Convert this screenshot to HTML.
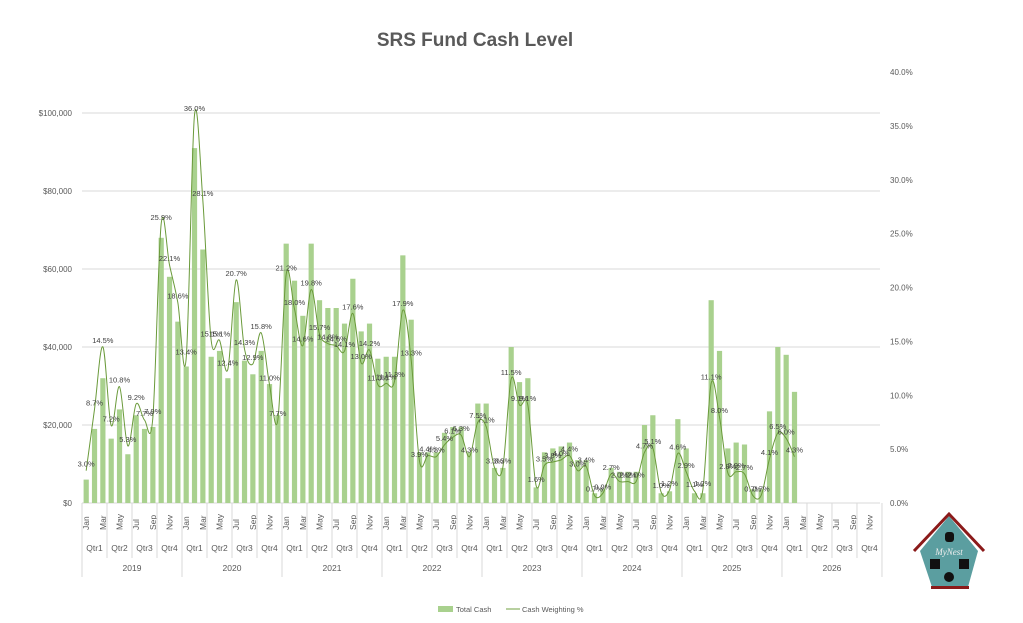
<!DOCTYPE html>
<html><head><meta charset="utf-8"><style>
body{margin:0;background:#fff;}
svg{display:block;font-family:"Liberation Sans",sans-serif;}
</style></head><body>
<svg id="c" width="1023" height="623" xmlns="http://www.w3.org/2000/svg">
<rect width="1023" height="623" fill="#fff"/>
<text x="475" y="46" text-anchor="middle" font-size="19" font-weight="bold" fill="#595959">SRS Fund Cash Level</text>
<g id="g"></g>
<!-- legend -->
<rect x="438" y="606" width="15" height="6" fill="#a9d18e"/>
<text x="456" y="612" font-size="7.5" fill="#595959">Total Cash</text>
<line x1="506" y1="609" x2="520" y2="609" stroke="#70a040" stroke-width="1"/>
<text x="522" y="612" font-size="7.5" fill="#595959">Cash Weighting %</text>
<!-- logo -->
<g>
<polygon points="949,516 920,551 932,587 968,587 978,551" fill="#5b9ea0"/>
<polyline points="914,551 949,514 984,551" fill="none" stroke="#8b1a1a" stroke-width="3"/>
<rect x="931" y="586" width="38" height="3" fill="#8b1a1a"/>
<rect x="945" y="532" width="9" height="10" rx="3" fill="#111"/>
<rect x="930" y="559" width="10" height="10" fill="#111"/>
<rect x="959" y="559" width="10" height="10" fill="#111"/>
<circle cx="949" cy="577" r="5" fill="#111"/>
<text x="949" y="555" text-anchor="middle" font-size="9" font-style="italic" fill="#eee" font-family="Liberation Serif,serif">MyNest</text>
</g>
</svg>
<script>
var ns="http://www.w3.org/2000/svg",g=document.getElementById('g');
function el(t,a,txt){var e=document.createElementNS(ns,t);for(var k in a)e.setAttribute(k,a[k]);if(txt!==undefined)e.textContent=txt;g.appendChild(e);return e;}
var X0=82,W=8.333,Y0=503;
for(var i=0;i<=5;i++){var y=Y0-i*78;el('line',{x1:X0,x2:880,y1:y,y2:y,stroke:'#d9d9d9','stroke-width':1});
el('text',{x:72,y:y+3,'text-anchor':'end','font-size':8,fill:'#595959'},i==0?'$0':'$'+(i*20)+',000');}
for(var i=0;i<=8;i++){var y=Y0-i*53.875;el('text',{x:890,y:y+3,'font-size':8,fill:'#595959'},(i*5)+'.0%');}
var bars=[6,19,32,16.5,24,12.5,22.5,19,19.5,68,58,46.5,
35,91,65,37.5,39,32,51.5,36.5,33,39,30.5,22.5,
66.5,57,48,66.5,52,50,50,46,57.5,44,46,37,
37.5,37.5,63.5,47,13,13,13,18,19.5,19.5,13,25.5,
25.5,9,9,40,31,32,4,13,14,14.5,15.5,11,
11,2.5,3.5,9,8,8,8,20,22.5,2.5,3,21.5,
14,2.5,2.5,52,39,14,15.5,15,3.5,3.5,23.5,40,
38,28.5];
bars.forEach(function(v,i){var h=v*3.9;el('rect',{x:X0+W*i+1.6,y:Y0-h,width:5.2,height:h,fill:'#a9d18e'});});
var p=[3.0,8.7,14.5,7.2,10.8,5.3,9.2,7.7,7.9,25.9,22.1,18.6,
13.4,36.0,28.1,15.1,15.1,12.4,20.7,14.3,12.9,15.8,11.0,7.7,
21.2,18.0,14.6,19.8,15.7,14.8,14.6,14.1,17.6,13.0,14.2,11.0,
11.1,11.3,17.9,13.3,3.9,4.4,4.3,5.4,6.1,6.3,4.3,7.5,
7.1,3.3,3.3,11.5,9.1,9.1,1.6,3.5,3.8,4.0,4.4,3.0,
3.4,0.7,0.9,2.7,2.0,2.0,2.0,4.7,5.1,1.0,1.2,4.6,
2.9,1.1,1.2,11.1,8.0,2.8,2.9,2.7,0.7,0.7,4.1,6.5,
6.0,4.3];
var pts=p.map(function(v,i){return [X0+W*(i+0.5),Y0-v*10.775];});
var d='M'+pts[0][0]+','+pts[0][1];
for(var i=0;i<pts.length-1;i++){var a=pts[Math.max(0,i-1)],b=pts[i],c=pts[i+1],e=pts[Math.min(pts.length-1,i+2)];
var t=6;d+=' C'+(b[0]+(c[0]-a[0])/t)+','+(b[1]+(c[1]-a[1])/t)+' '+(c[0]-(e[0]-b[0])/t)+','+(c[1]-(e[1]-b[1])/t)+' '+c[0]+','+c[1];}
el('path',{d:d,fill:'none',stroke:'#6a9a3a','stroke-width':1});
p.forEach(function(v,i){el('text',{x:pts[i][0],y:pts[i][1]-4,'text-anchor':'middle','font-size':7.5,fill:'#404040'},v.toFixed(1)+'%');});
var mn=['Jan','Mar','May','Jul','Sep','Nov'];
for(var i=0;i<96;i+=2){var x=X0+W*(i+0.5)+3;el('text',{transform:'translate('+x+',530) rotate(-90)','font-size':8.5,fill:'#595959'},mn[(i%12)/2]);}
for(var q=0;q<=32;q++){var x=X0+q*W*3;el('line',{x1:x,x2:x,y1:Y0,y2:(q%4==0)?577:558,stroke:'#d9d9d9'});
if(q<32)el('text',{x:x+W*1.5,y:551,'text-anchor':'middle','font-size':8.5,fill:'#595959'},'Qtr'+(q%4+1));}
for(var yr=0;yr<8;yr++)el('text',{x:X0+yr*W*12+W*6,y:571,'text-anchor':'middle','font-size':8.5,fill:'#595959'},2019+yr);
</script>
</body></html>
